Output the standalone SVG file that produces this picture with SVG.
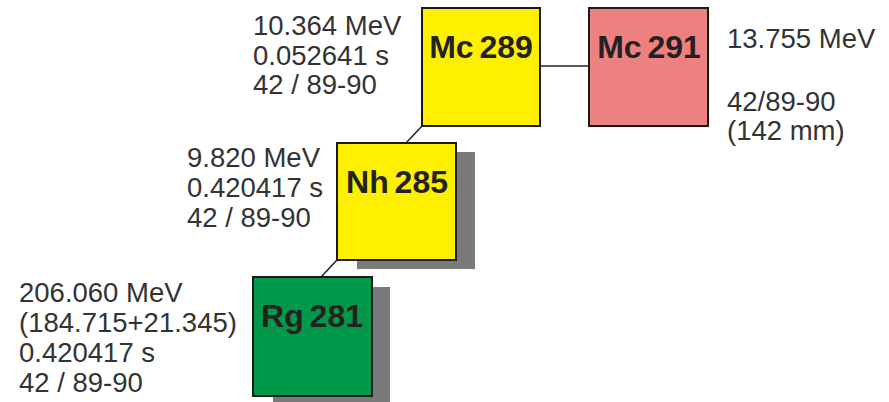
<svg xmlns="http://www.w3.org/2000/svg" width="889" height="402" viewBox="0 0 889 402">
  <style>
    .box { stroke: #1a1a1a; stroke-width: 2; }
    .shadow { fill: #7a7a7a; }
    .name { font-family: "Liberation Sans", Arial, sans-serif; font-weight: bold; font-size: 32px; word-spacing: -3px; fill: #222222; text-anchor: middle; }
    .info { font-family: "Liberation Sans", Arial, sans-serif; font-size: 27.5px; fill: #333333; }
    .link { stroke: #222222; stroke-width: 1.5; fill: none; }
  </style>
  <rect width="889" height="402" fill="#ffffff"/>

  <!-- decay links -->
  <g id="connectors">
    <line class="link" x1="540" y1="66" x2="589" y2="66"/>
    <line class="link" x1="422" y1="126" x2="406" y2="143"/>
    <line class="link" x1="337" y1="260" x2="321" y2="277"/>
  </g>

  <g id="mc289">
    <rect class="box" x="422" y="8" width="118" height="118" fill="#fff000"/>
    <text class="name" x="481" y="58">Mc 289</text>
    <text class="info" x="253" y="35">10.364 MeV</text>
    <text class="info" x="253" y="65">0.052641 s</text>
    <text class="info" x="253" y="94">42 / 89-90</text>
  </g>

  <g id="mc291">
    <rect class="box" x="589" y="8" width="119" height="118" fill="#ee8080"/>
    <text class="name" x="649" y="58">Mc 291</text>
    <text class="info" x="727" y="48">13.755 MeV</text>
    <text class="info" x="727" y="111">42/89-90</text>
    <text class="info" x="727" y="140">(142 mm)</text>
  </g>

  <g id="nh285">
    <rect class="shadow" x="357" y="152" width="118" height="117"/>
    <rect class="box" x="337" y="143" width="119" height="117" fill="#fff000"/>
    <text class="name" x="397" y="193">Nh 285</text>
    <text class="info" x="187" y="167">9.820 MeV</text>
    <text class="info" x="187" y="197">0.420417 s</text>
    <text class="info" x="187" y="227">42 / 89-90</text>
  </g>

  <g id="rg281">
    <rect class="shadow" x="273" y="287" width="117" height="120"/>
    <rect class="box" x="253" y="277" width="119" height="119" fill="#00994a"/>
    <text class="name" x="312" y="327">Rg 281</text>
    <text class="info" x="19" y="302">206.060 MeV</text>
    <text class="info" x="19" y="332">(184.715+21.345)</text>
    <text class="info" x="19" y="362">0.420417 s</text>
    <text class="info" x="19" y="392">42 / 89-90</text>
  </g>
</svg>
